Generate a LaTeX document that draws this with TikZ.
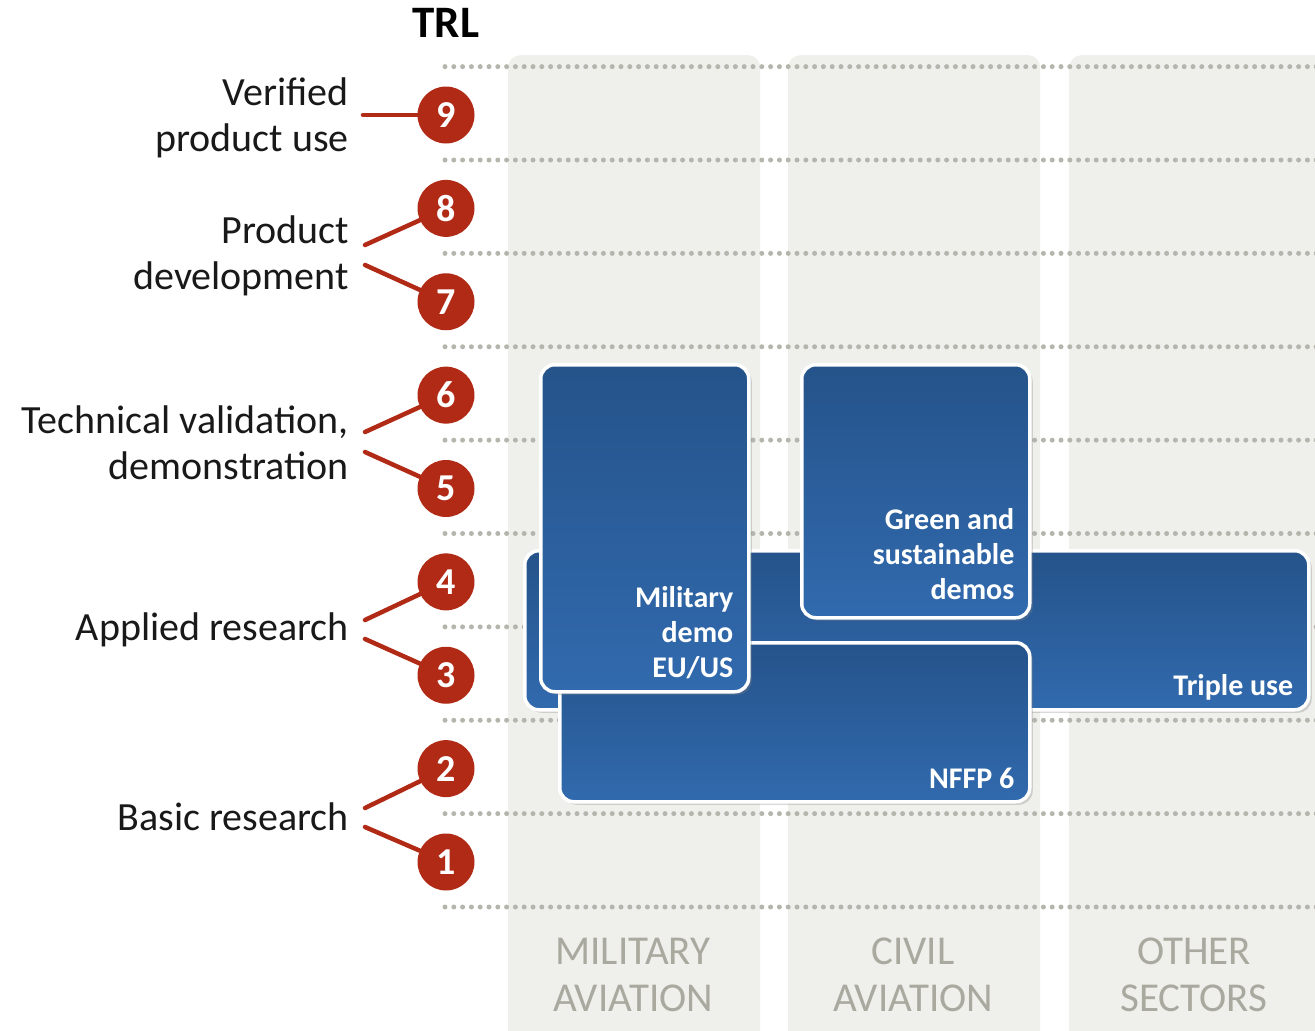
\documentclass[tikz,border=0pt]{standalone}
\usepackage{fontspec}
\setmainfont{Carlito}
\usetikzlibrary{positioning,shadows,shadings}
\definecolor{trlred}{HTML}{B12A16}
\definecolor{colgray}{HTML}{EFEFEB}
\definecolor{dotgray}{HTML}{B5B5AD}
\definecolor{secgray}{HTML}{A9A99F}
\definecolor{boxtop}{HTML}{25538A}
\definecolor{boxbot}{HTML}{316AAE}
\begin{document}
\begin{tikzpicture}[x=1pt,y=-1pt,
  sector col/.style={fill=colgray,rounded corners=12pt,anchor=north west,inner sep=0pt},
  sector text/.style={text=secgray,align=center,font=\fontsize{41}{47}\selectfont},
  grid line/.style={dotgray,line width=5pt,line cap=round,dash pattern=on 0pt off 8.8pt},
  trl node/.style={circle,fill=trlred,minimum size=57pt,inner sep=0pt,text=white,font=\fontsize{38}{38}\bfseries},
  trl line/.style={trlred,line width=4.5pt,line cap=round},
  level text/.style={anchor=east,align=right,inner sep=0pt,text=black!90,font=\fontsize{40}{46}\selectfont},
  block box/.style={anchor=north west,inner sep=0pt,rounded corners=14pt,draw=white,line width=3.5pt,
    top color=boxtop,bottom color=boxbot,drop shadow={shadow xshift=3pt,shadow yshift=-3pt,opacity=0.3}},
  block text/.style={anchor=south east,align=right,inner sep=0pt,text depth=0pt,text=white,
    font=\fontsize{30}{35}\bfseries}]

  \useasboundingbox (0,0) rectangle (1315,1031);
  \clip (0,0) rectangle (1315,1031);

  % sector columns
  \node[sector col,minimum width=252pt,minimum height=990pt] (mil) at (508,55) {};
  \node[sector col,minimum width=252pt,minimum height=990pt] (civ) at (788,55) {};
  \node[sector col,minimum width=260pt,minimum height=990pt] (oth) at (1069,55) {};
  \node[sector text] (miltxt) at (633,975) {MILITARY\\AVIATION};
  \node[sector text] (civtxt) at (913,975) {CIVIL\\AVIATION};
  \node[sector text] (othtxt) at (1194,975) {OTHER\\SECTORS};

  % TRL grid
  \foreach \k in {0,...,9}
    \draw[grid line] (445,{907-93.375*\k}) -- (1320,{907-93.375*\k});

  \node[font=\fontsize{45}{45}\bfseries] (trl) at (446,23) {TRL};

  \foreach \n in {1,...,9}
    \node[trl node] (c\n) at (446,{862-93.375*(\n-1)}) {\n};

  % level labels
  \node[level text] (verified) at (349,118) {Verified\\product use};
  \node[level text] (product) at (349,256) {Product\\development};
  \node[level text] (technical) at (349,443) {Technical validation,\\demonstration};
  \node[level text] (applied) at (349,630) {Applied research};
  \node[level text] (basic) at (349,817) {Basic research};

  \coordinate (s9) at (363,115);
  \coordinate (s8) at (365,245);
  \coordinate (s7) at (365,265);
  \coordinate (s6) at (365,432);
  \coordinate (s5) at (365,452);
  \coordinate (s4) at (365,620);
  \coordinate (s3) at (365,639);
  \coordinate (s2) at (365,808);
  \coordinate (s1) at (365,827);
  \foreach \n in {1,...,9}
    \draw[trl line] (s\n) -- (c\n);

  % programme blocks
  \node[block box,minimum width=784pt,minimum height=159pt] (triple) at (523,549) {};
  \node[block text] (tripletxt) at ([shift={(-17,-16)}]triple.south east) {Triple use};
  \node[block box,minimum width=470pt,minimum height=159pt] (nffp) at (558,641) {};
  \node[block text] (nffptxt) at ([shift={(-17,-15)}]nffp.south east) {NFFP 6};
  \node[block box,minimum width=208pt,minimum height=327pt] (mildemo) at (539,363) {};
  \node[block text] (mildemotxt) at ([shift={(-17,-16)}]mildemo.south east) {Military\\demo\\EU/US};
  \node[block box,minimum width=228pt,minimum height=253pt] (green) at (800,363) {};
  \node[block text] (greentxt) at ([shift={(-17,-20)}]green.south east) {Green and\\sustainable\\demos};
\end{tikzpicture}
\end{document}
